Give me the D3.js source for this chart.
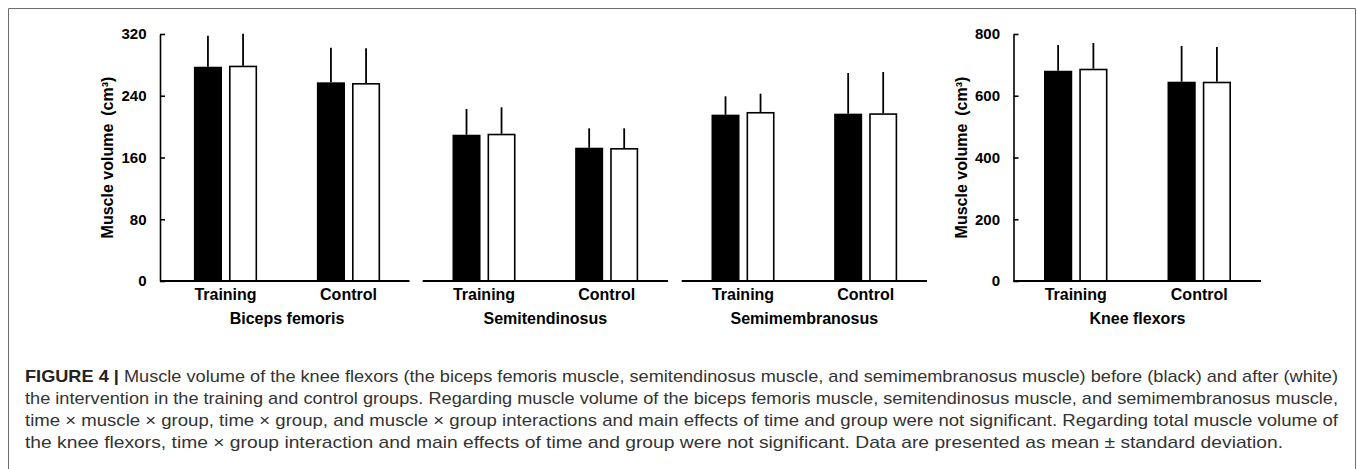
<!DOCTYPE html>
<html>
<head>
<meta charset="utf-8">
<script src="https://cdn.jsdelivr.net/npm/d3@7"></script>
<style>
  html, body { margin: 0; padding: 0; background: #fff; }
  svg { display: block; }
</style>
</head>
<body>
<svg id="chart" width="1357" height="469"></svg>
<script>
// ---------- data ----------
const groups = ["Training", "Control"];
const times = ["before", "after"];           // black = before, white = after
const muscles = ["Biceps femoris", "Semitendinosus", "Semimembranosus", "Knee flexors"];

// mean values [Training before, Training after, Control before, Control after]
const bicepsMean = [277.6, 279.0, 257.4, 256.5];
const bicepsSD   = [40.2, 41.4, 44.9, 45.0];
const semitenMean = [189.5, 190.8, 172.7, 172.3];
const semitenSD   = [33.3, 34.2, 25.1, 25.5];
const semimemMean = [215.5, 219.0, 216.8, 217.3];
const semimemSD   = [23.8, 23.7, 52.7, 53.5];
const kneeMean = [681.0, 687.6, 645.5, 645.5];
const kneeSD   = [83.0, 83.3, 115.5, 112.5];

const ticksSmall = [0, 80, 160, 240, 320];
const ticksLarge = [0, 200, 400, 600, 800];
const yTitle = "Muscle volume";
const yUnit = "(cm³)";

const captionBold = "FIGURE 4 | ";
const captionLines = [
  "Muscle volume of the knee flexors (the biceps femoris muscle, semitendinosus muscle, and semimembranosus muscle) before (black) and after (white)",
  "the intervention in the training and control groups. Regarding muscle volume of the biceps femoris muscle, semitendinosus muscle, and semimembranosus muscle,",
  "time × muscle × group, time × group, and muscle × group interactions and main effects of time and group were not significant. Regarding total muscle volume of",
  "the knee flexors, time × group interaction and main effects of time and group were not significant. Data are presented as mean ± standard deviation."
];

// ---------- layout ----------
const svg = d3.select("#chart");
const FONT = "'Liberation Sans', Arial, Helvetica, sans-serif";
const yTop = 34, yBase = 281;

// frame
svg.append("path")
  .attr("d", "M8.5,469 V8.5 H1355.5 V469")
  .attr("fill", "none").attr("stroke", "#6d6d6d").attr("stroke-width", 1);

const yScaleSmall = d3.scaleLinear().domain([0, 320]).range([yBase, yTop]);
const yScaleLarge = d3.scaleLinear().domain([0, 800]).range([yBase, yTop]);

const panels = [
  { name: muscles[0], mean: bicepsMean, sd: bicepsSD, y: yScaleSmall, lineX: [160, 409.5], band: [164, 410], axis: ticksSmall },
  { name: muscles[1], mean: semitenMean, sd: semitenSD, y: yScaleSmall, lineX: [422.7, 668], band: [422.7, 668], axis: null },
  { name: muscles[2], mean: semimemMean, sd: semimemSD, y: yScaleSmall, lineX: [681.7, 927], band: [681.7, 927], axis: null },
  { name: muscles[3], mean: kneeMean, sd: kneeSD, y: yScaleLarge, lineX: [1013.5, 1261], band: [1014, 1261], axis: ticksLarge }
];

panels.forEach(p => {
  const g = svg.append("g");
  const x = d3.scaleBand().domain(groups).range(p.band).paddingInner(0.486).paddingOuter(0.243);
  const xs = d3.scaleBand().domain(times).range([0, x.bandwidth()]).paddingInner(0.2);
  const y = p.y;

  const data = [];
  groups.forEach((gr, gi) => times.forEach((t, ti) => {
    const k = gi * 2 + ti;
    data.push({ group: gr, time: t, mean: p.mean[k], sd: p.sd[k] });
  }));

  // error bars (upper only)
  g.selectAll("line.err").data(data).enter().append("line")
    .attr("x1", d => x(d.group) + xs(d.time) + xs.bandwidth() / 2)
    .attr("x2", d => x(d.group) + xs(d.time) + xs.bandwidth() / 2)
    .attr("y1", d => y(d.mean))
    .attr("y2", d => y(d.mean + d.sd))
    .attr("stroke", "#000").attr("stroke-width", 1.8);

  // bars
  g.selectAll("rect.bar").data(data).enter().append("rect")
    .attr("x", d => x(d.group) + xs(d.time) + (d.time === "after" ? 0.8 : 0))
    .attr("y", d => y(d.mean) + (d.time === "after" ? 0.8 : 0))
    .attr("width", d => xs.bandwidth() - (d.time === "after" ? 1.6 : 0))
    .attr("height", d => yBase - y(d.mean) - (d.time === "after" ? 0.8 : 0))
    .attr("fill", d => d.time === "before" ? "#000" : "#fff")
    .attr("stroke", d => d.time === "before" ? "none" : "#000")
    .attr("stroke-width", 1.6);

  // baseline
  g.append("line")
    .attr("x1", p.lineX[0]).attr("x2", p.lineX[1])
    .attr("y1", yBase).attr("y2", yBase)
    .attr("stroke", "#000").attr("stroke-width", 2);

  // category labels
  g.selectAll("text.cat").data(groups).enter().append("text")
    .attr("x", d => x(d) + x.bandwidth() / 2)
    .attr("y", 299.5)
    .attr("text-anchor", "middle")
    .attr("font-family", FONT).attr("font-weight", "bold").attr("font-size", 16)
    .text(d => d);

  // panel title
  const cx = (x("Training") + x("Control") + x.bandwidth()) / 2;
  g.append("text")
    .attr("x", cx).attr("y", 323.5)
    .attr("text-anchor", "middle")
    .attr("font-family", FONT).attr("font-weight", "bold").attr("font-size", 16)
    .text(p.name);

  // y axis
  if (p.axis) {
    const ax = d3.axisLeft(y).tickValues(p.axis).tickSizeInner(-5).tickSizeOuter(0).tickPadding(13.5);
    const ag = svg.append("g").attr("transform", `translate(${p.lineX[0]},0)`).call(ax);
    ag.select(".domain").attr("stroke", "#000").attr("stroke-width", 1.6);
    ag.selectAll(".tick line").attr("stroke", "#000").attr("stroke-width", 1.6);
    ag.selectAll(".tick text")
      .attr("font-family", FONT).attr("font-weight", "bold").attr("font-size", 15)
      .attr("fill", "#000");

    const t = svg.append("text")
      .attr("transform", `translate(${p.lineX[0] - 47},${(yTop + yBase) / 2}) rotate(-90)`)
      .attr("text-anchor", "middle")
      .attr("font-family", FONT).attr("font-weight", "bold").attr("font-size", 16)
      .attr("fill", "#000");
    t.append("tspan").text(yTitle);
    t.append("tspan").attr("dx", 8).text(yUnit);
  }
});

// caption
const capBase = [381.7, 403.9, 426.1, 448.3];
const capLen = [1313, 1313, 1313, 1258];
captionLines.forEach((line, i) => {
  const t = svg.append("text")
    .attr("x", 25).attr("y", capBase[i])
    .attr("font-family", FONT).attr("font-size", 17)
    .attr("fill", "#333")
    .attr("textLength", capLen[i]).attr("lengthAdjust", "spacingAndGlyphs");
  if (i === 0) {
    t.append("tspan").attr("font-weight", "bold").attr("fill", "#222").text(captionBold);
  }
  t.append("tspan").text(line);
});
</script>
</body>
</html>
